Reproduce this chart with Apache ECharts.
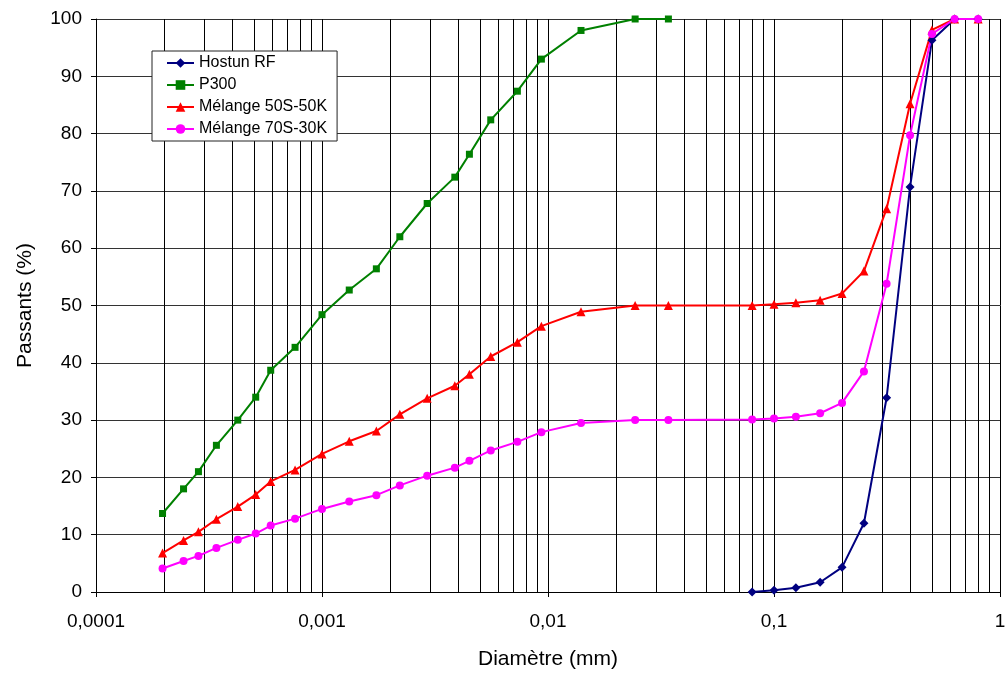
<!DOCTYPE html>
<html>
<head>
<meta charset="utf-8">
<script src="https://cdn.jsdelivr.net/npm/echarts@6/dist/echarts.min.js"></script>
<style>
html,body{margin:0;padding:0;background:#fff;}
#chart{width:1005px;height:673px;}
</style>
</head>
<body>
<div id="chart"></div>
<script>
// Diameters (mm)
var diamFine = [0.000197, 0.000244, 0.000284, 0.000341, 0.000424, 0.000509, 0.000593, 0.00076, 0.001, 0.00132, 0.00174, 0.00221, 0.00292, 0.00387, 0.00449, 0.00558, 0.00732, 0.00935, 0.0140, 0.0243, 0.0341];
var sieves = [0.08, 0.1, 0.125, 0.16, 0.2, 0.25, 0.315, 0.4, 0.5, 0.63, 0.8];

// Passing (%)
var hostun = [0, 0.3, 0.75, 1.7, 4.3, 12.0, 33.9, 70.7, 96.3, 100, 100];
var p300 = [13.7, 18.0, 21.0, 25.6, 30.0, 34.0, 38.7, 42.7, 48.4, 52.7, 56.4, 62.0, 67.8, 72.4, 76.4, 82.4, 87.4, 93.0, 98.0, 100, 100];
var mel50Fine = [6.8, 9.0, 10.5, 12.7, 14.9, 17.0, 19.3, 21.3, 24.1, 26.3, 28.1, 31.0, 33.8, 36.0, 38.0, 41.1, 43.6, 46.4, 48.9, 50.0, 50.0];
var mel50Sieve = [50.0, 50.2, 50.5, 50.9, 52.1, 56.0, 66.9, 85.2, 98.1, 100, 100];
var mel70Fine = [4.1, 5.4, 6.3, 7.7, 9.1, 10.2, 11.6, 12.8, 14.5, 15.8, 16.9, 18.6, 20.3, 21.7, 22.9, 24.7, 26.2, 27.9, 29.5, 30.0, 30.0];
var mel70Sieve = [30.1, 30.3, 30.6, 31.2, 33.0, 38.5, 53.8, 79.7, 97.4, 100, 100];

var seriesNames = ['Hostun RF', 'P300', 'Mélange 50S-50K', 'Mélange 70S-30K'];

// Axis ticks
var xDecades = [0.0001, 0.001, 0.01, 0.1, 1];
var xTickLabels = ['0,0001', '0,001', '0,01', '0,1', '1'];
var minorMultipliers = [2, 3, 4, 5, 6, 7, 8, 9];
var yMin = 0, yMax = 100;

function pairs(xs, ys) {
  var out = [];
  for (var i = 0; i < xs.length; i++) out.push([xs[i], ys[i]]);
  return out;
}

var minorLines = [];
for (var d = 0; d < xDecades.length - 1; d++) {
  for (var m = 0; m < minorMultipliers.length; m++) {
    var xv = xDecades[d] * minorMultipliers[m];
    minorLines.push({ coords: [[xv, yMin], [xv, yMax]] });
  }
}

var FONT = '"Liberation Sans", Arial, Helvetica, sans-serif';

var chart = echarts.init(document.getElementById('chart'), null, { renderer: 'canvas' });
var option = {
  animation: false,
  backgroundColor: '#fff',
  textStyle: { fontFamily: FONT },
  grid: { left: 96, right: 5, top: 19, bottom: 81, containLabel: false, outerBoundsMode: 'none' },
  legend: {
    data: seriesNames,
    orient: 'vertical',
    left: 152,
    top: 51,
    width: 184,
    padding: [4, 10, 4, 14],
    itemGap: 6,
    itemWidth: 27,
    itemHeight: 12,
    backgroundColor: '#fff',
    borderColor: '#222',
    borderWidth: 1,
    borderRadius: 0,
    textStyle: { fontFamily: FONT, fontSize: 16, color: '#000', lineHeight: 16 }
  },
  xAxis: {
    type: 'log',
    logBase: 10,
    min: 0.0001,
    max: 1,
    name: 'Diamètre (mm)',
    nameLocation: 'middle',
    nameGap: 57,
    nameTextStyle: { fontFamily: FONT, fontSize: 21, color: '#000' },
    axisLine: { show: true, onZero: false, lineStyle: { color: '#000', width: 1 } },
    axisTick: { show: true, inside: false, length: 5, lineStyle: { color: '#000' } },
    axisLabel: {
      fontFamily: FONT, fontSize: 19, color: '#000', margin: 20,
      formatter: function (v) {
        var idx = Math.round(Math.log10(v) + 4);
        return xTickLabels[idx] !== undefined ? xTickLabels[idx] : '';
      }
    },
    splitLine: { show: true, lineStyle: { color: '#000', width: 1 } },
    minorTick: { show: false },
    minorSplitLine: { show: false }
  },
  yAxis: {
    type: 'value',
    min: yMin,
    max: yMax,
    interval: 10,
    name: 'Passants (%)',
    nameLocation: 'middle',
    nameGap: 60,
    nameRotate: 90,
    nameTextStyle: { fontFamily: FONT, fontSize: 21, color: '#000' },
    axisLine: { show: true, lineStyle: { color: '#000', width: 1 } },
    axisTick: { show: true, inside: false, length: 5, lineStyle: { color: '#000' } },
    axisLabel: { fontFamily: FONT, fontSize: 19, color: '#000', margin: 14 },
    splitLine: { show: true, lineStyle: { color: '#333', width: 1 } }
  },
  series: [
    {
      name: 'minor-grid',
      type: 'lines',
      coordinateSystem: 'cartesian2d',
      z: 1,
      silent: true,
      polyline: false,
      symbol: ['none', 'none'],
      effect: { show: false },
      lineStyle: { color: '#000', width: 1, type: 'solid', opacity: 1 },
      emphasis: { disabled: true },
      data: minorLines
    },
    {
      name: seriesNames[0], type: 'line', data: pairs(sieves, hostun),
      symbol: 'diamond', symbolSize: 9,
      itemStyle: { color: '#000080' }, lineStyle: { color: '#000080', width: 2 }
    },
    {
      name: seriesNames[1], type: 'line', data: pairs(diamFine, p300),
      symbol: 'rect', symbolSize: 7,
      itemStyle: { color: '#008000' }, lineStyle: { color: '#008000', width: 2 }
    },
    {
      name: seriesNames[2], type: 'line', data: pairs(diamFine.concat(sieves), mel50Fine.concat(mel50Sieve)),
      symbol: 'triangle', symbolSize: 9,
      itemStyle: { color: '#FF0000' }, lineStyle: { color: '#FF0000', width: 2 }
    },
    {
      name: seriesNames[3], type: 'line', data: pairs(diamFine.concat(sieves), mel70Fine.concat(mel70Sieve)),
      symbol: 'circle', symbolSize: 8,
      itemStyle: { color: '#FF00FF' }, lineStyle: { color: '#FF00FF', width: 2 }
    }
  ]
};
chart.setOption(option);
</script>
</body>
</html>
